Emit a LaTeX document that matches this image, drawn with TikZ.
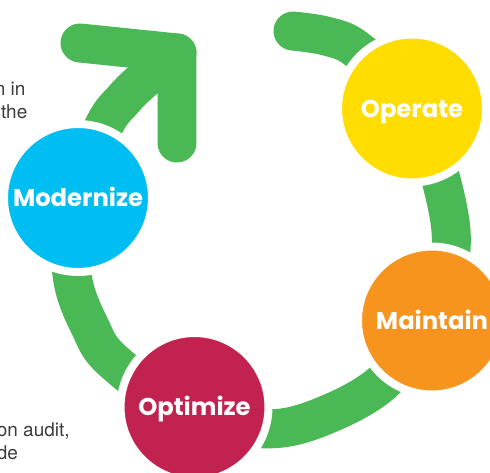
\documentclass[tikz,border=0pt]{standalone}
\usepackage{fontspec}
\newfontfamily\stagefont{Poppins}
\newfontfamily\notefont{TeX Gyre Heros}
\definecolor{ringgreen}{HTML}{4AB854}
\definecolor{modblue}{HTML}{00BDF2}
\definecolor{opyellow}{HTML}{FFDD00}
\definecolor{mainorange}{HTML}{F7941E}
\definecolor{optred}{HTML}{C1224F}
\definecolor{notegray}{HTML}{3C3C3C}

\begin{document}
\begin{tikzpicture}[x=0.02cm,y=-0.02cm,
	band/.style={ringgreen,line width=0.78cm,line cap=round,line join=round},
	stage/.style={circle,fill=#1,draw=white,line width=0.16cm,minimum size=2.96cm,inner sep=0pt,
		text=white,text height=9.7pt,text depth=0pt,font=\stagefont\bfseries\fontsize{13.8}{16}\selectfont},
	note/.style={anchor=base east,inner sep=0pt,text=notegray,font=\notefont\fontsize{10.8}{13}\selectfont}]
	
	\useasboundingbox (0,0) rectangle (490,473);
	
	\begin{scope}[shift={(262,236)}]
	\draw[band] plot[smooth,tension=0.55] coordinates {(278.6:207.3) (288:210) (297.3:209) (320:200) (358:189) (385:189) (410:189.6) (430:190) (447.6:193) (472:194) (500:194.5) (512:194.5) (528:194) (552:193) (575.5:193) (584.4:194.5) (592.3:196) (605.1:201.8)};
	\end{scope}
	\coordinate (tip) at (177,53);
	\draw[band] (80,43) -- (tip) -- (177,143);
	
	\node[stage=modblue] (modernize) at (78,198) {Modernize};
	\node[stage=opyellow] (operate) at (412,108.5) {Operate};
	\node[stage=mainorange] (maintain) at (432,320.5) {Maintain};
	\node[stage=optred] (optimize) at (194.5,407) {Optimize};
	
	\node[note] (notea) at (25.7,95) {n in};
	\node[note] (noteb) at (27.7,118.7) {the};
	\node[note] (notec) at (70,436.7) {on audit,};
	\node[note] (noted) at (18.3,459.3) {de};
	
\end{tikzpicture}
\end{document}
